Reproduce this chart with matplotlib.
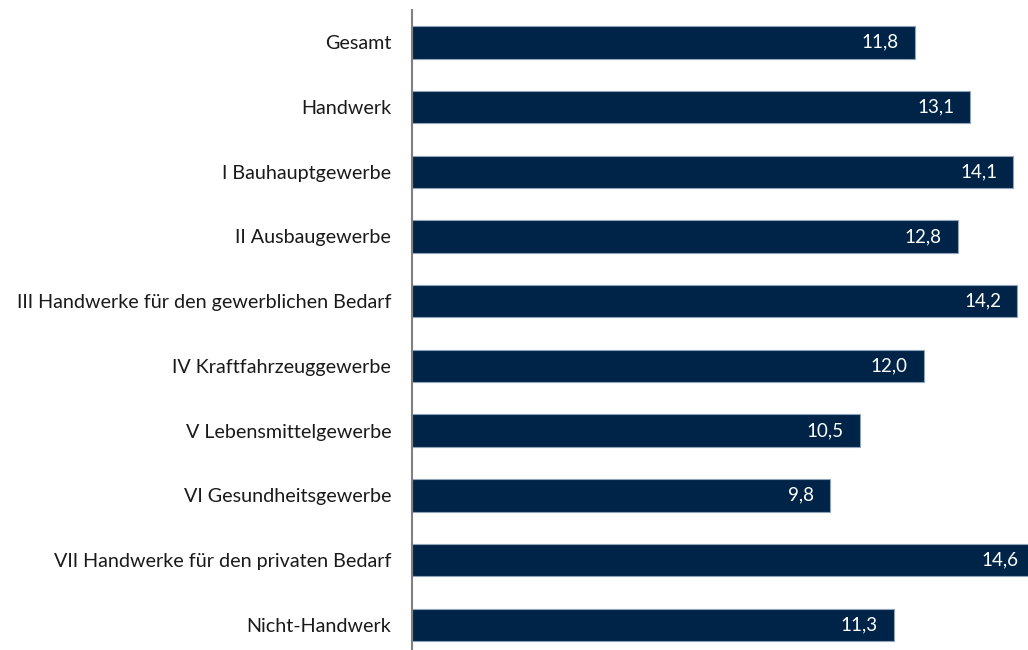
import matplotlib
matplotlib.use("Agg")
import matplotlib.pyplot as plt

categories = [
    "Gesamt",
    "Handwerk",
    "I Bauhauptgewerbe",
    "II Ausbaugewerbe",
    "III Handwerke für den gewerblichen Bedarf",
    "IV Kraftfahrzeuggewerbe",
    "V Lebensmittelgewerbe",
    "VI Gesundheitsgewerbe",
    "VII Handwerke für den privaten Bedarf",
    "Nicht-Handwerk",
]
values = [11.8, 13.1, 14.1, 12.8, 14.2, 12.0, 10.5, 9.8, 14.6, 11.3]

plt.rcParams['font.family'] = ['Lato', 'DejaVu Sans']

fig = plt.figure(figsize=(10.28, 6.5), dpi=100)
ax = fig.add_axes([412/1028, 0, 616/1028, 640/650])

y = list(range(len(categories)))
ax.barh(y, values, height=0.5, color="#002447", edgecolor="#8fa3ba", linewidth=0.8,
        clip_on=False)

for yi, v in zip(y, values):
    ax.annotate(f"{v:.1f}".replace(".", ","), xy=(v, yi), xytext=(-16, 0),
                textcoords="offset pixels", annotation_clip=False,
                ha="right", va="center", color="white", fontsize=13.5)

ax.set_xlim(0, 14.45)
ax.set_ylim(9.39, -0.5)
ax.set_yticks(y)
ax.set_yticklabels(categories, fontsize=14.2, color="#1a1a1a")
ax.tick_params(axis="y", length=0, pad=15)
ax.set_xticks([])
for s in ["top", "right", "bottom"]:
    ax.spines[s].set_visible(False)
ax.spines["left"].set_color("#808080")
ax.spines["left"].set_linewidth(1.5)

fig.savefig("out.png", dpi=100)
